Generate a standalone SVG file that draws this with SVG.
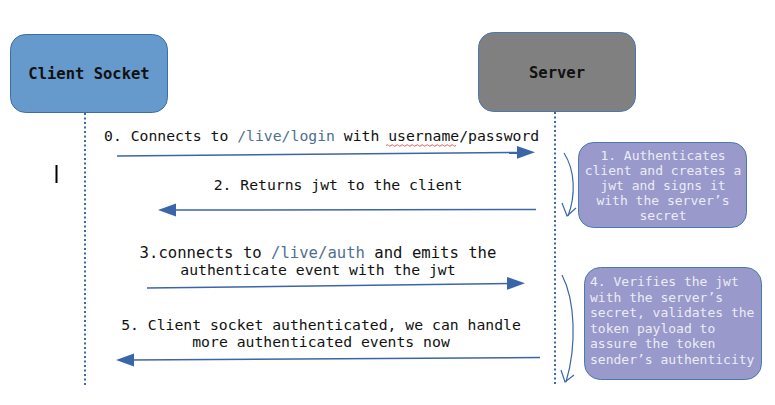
<svg xmlns="http://www.w3.org/2000/svg" width="775" height="405" viewBox="0 0 775 405">
<defs>
<style>
.mono{font-family:"DejaVu Sans Mono","Liberation Mono",monospace;}
.msg{font-size:14.75px;fill:#111;}
.path{fill:#4f6f8f;}
.note{font-size:13px;fill:#ececf4;}
.life{stroke:#3a6aa8;stroke-width:2;stroke-dasharray:2 2.5;fill:none;}
.arr{stroke:#3a66a8;stroke-width:1.5;fill:none;}
.head{fill:#3a66a8;}
.curve{stroke:#3a66a8;stroke-width:1.2;fill:none;}
</style>
</defs>
<rect width="775" height="405" fill="#fff"/>
<g id="client">
<rect x="10.5" y="34.5" width="157" height="78" rx="15" fill="#6699cc" stroke="#3d6ea6" stroke-width="1"/>
<text class="mono" x="89" y="79" text-anchor="middle" font-size="15.5" font-weight="bold" fill="#111">Client Socket</text>
</g>
<g id="server">
<rect x="478.5" y="32.5" width="157" height="79" rx="15" fill="#808080" stroke="#4a78b0" stroke-width="1"/>
<text class="mono" x="557" y="78" text-anchor="middle" font-size="15.5" font-weight="bold" fill="#111">Server</text>
</g>
<g id="note1">
<rect x="578.5" y="142.5" width="168" height="85" rx="15" fill="#9999cc" stroke="#4a78b0" stroke-width="1"/>
<text class="mono note" text-anchor="middle"><tspan x="663" y="160">1. Authenticates</tspan><tspan x="663" y="175">client and creates a</tspan><tspan x="663" y="190">jwt and signs it</tspan><tspan x="663" y="205">with the server’s</tspan><tspan x="663" y="220">secret</tspan></text>
</g>
<g id="note4">
<rect x="584.5" y="267.5" width="177" height="112" rx="16" fill="#9999cc" stroke="#4a78b0" stroke-width="1"/>
<text class="mono note"><tspan x="590" y="286">4. Verifies the jwt</tspan><tspan x="590" y="301.5">with the server’s</tspan><tspan x="590" y="317">secret, validates the</tspan><tspan x="590" y="332.5">token payload to</tspan><tspan x="590" y="348">assure the token</tspan><tspan x="590" y="363.5">sender’s authenticity</tspan></text>
</g>
<g id="connectors">
<line class="life" x1="85" y1="113" x2="85" y2="386"/>
<line class="life" x1="555" y1="112" x2="555" y2="384"/>
<line class="arr" x1="117" y1="156" x2="520" y2="152.5"/>
<polygon class="head" points="535,152.3 517,146 517,158.8"/>
<line class="arr" x1="536" y1="209.5" x2="172" y2="210"/>
<polygon class="head" points="158,210 176,203.5 176,216.5"/>
<line class="arr" x1="147" y1="288" x2="510" y2="283.5"/>
<polygon class="head" points="525,283.3 507,277 507,289.8"/>
<line class="arr" x1="540" y1="357.5" x2="130" y2="360"/>
<polygon class="head" points="116,360 134,353.5 134,366.5"/>
<path class="curve" d="M564,153 C575,170 576,195 568,216"/>
<path class="curve" d="M562,203 L567,216 L576,208"/>
<path class="curve" d="M562,275 C575,300 577,345 566,382"/>
<path class="curve" d="M561,370 L565,382 L574,375"/>
</g>
<g id="labels">
<text class="mono msg" x="104" y="141">0. Connects to <tspan class="path">/live/login</tspan> with username/password</text>
<path d="M386,145.5 q1.25,-1.5 2.5,0 t2.5,0 t2.5,0 t2.5,0 t2.5,0 t2.5,0 t2.5,0 t2.5,0 t2.5,0 t2.5,0 t2.5,0 t2.5,0 t2.5,0 t2.5,0 t2.5,0 t2.5,0 t2.5,0 t2.5,0 t2.5,0 t2.5,0 t2.5,0 t2.5,0 t2.5,0 t2.5,0 t2.5,0 t2.5,0 t2.5,0 t2.5,0" fill="none" stroke="#e03030" stroke-width="0.8"/>
<text class="mono msg" x="338" y="190" text-anchor="middle">2. Returns jwt to the client</text>
<text class="mono msg" text-anchor="middle"><tspan x="318" y="258" font-size="15.6">3.connects to <tspan class="path">/live/auth</tspan> and emits the</tspan><tspan x="318" y="275">authenticate event with the jwt</tspan></text>
<text class="mono msg" text-anchor="middle"><tspan x="321" y="330">5. Client socket authenticated, we can handle</tspan><tspan x="321" y="347">more authenticated events now</tspan></text>
<line x1="56.5" y1="165" x2="56.5" y2="183" stroke="#000" stroke-width="2"/>
</g>
</svg>
